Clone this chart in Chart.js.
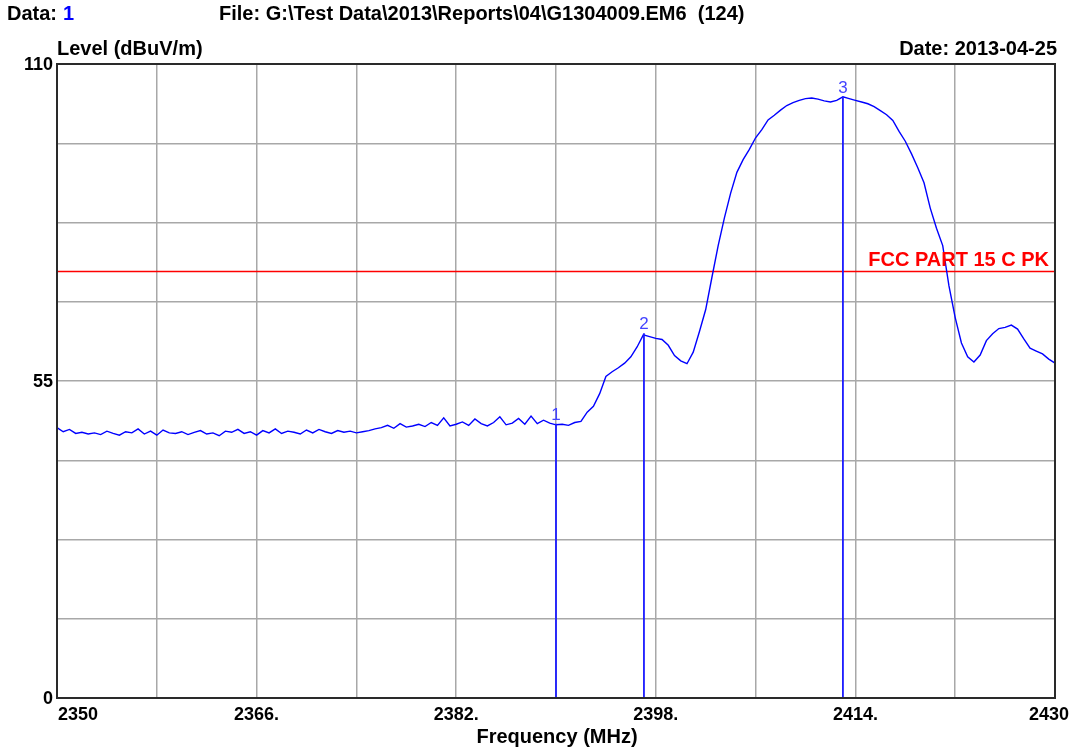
<!DOCTYPE html>
<html>
<head>
<meta charset="utf-8">
<title>G1304009.EM6</title>
<script src="https://cdn.jsdelivr.net/npm/chart.js@4.4.1/dist/chart.umd.min.js"></script>
<style>
    html, body { margin: 0; padding: 0; background: #ffffff; }
    #wrap { width: 1074px; height: 751px; position: relative; }
</style>
</head>
<body>
<div id="wrap"><canvas id="emChart"></canvas></div>
<script>
// Frequency axis, 0.5 MHz steps from 2350 to 2430
const startFreq = 2350;
const stepFreq = 0.5;

// Measured level (dBuV/m), one value per 0.5 MHz
const levels = [
    46.9, 46.2, 46.6, 45.9, 46.1, 45.8, 46.0, 45.7, 46.3, 45.9,
    45.6, 46.2, 46.0, 46.7, 45.8, 46.3, 45.6, 46.5, 46.0, 45.9,
    46.2, 45.7, 46.1, 46.4, 45.8, 46.0, 45.5, 46.3, 46.1, 46.6,
    45.9, 46.2, 45.6, 46.4, 46.0, 46.7, 45.9, 46.3, 46.1, 45.8,
    46.5, 46.0, 46.6, 46.2, 45.9, 46.4, 46.1, 46.3, 46.0, 46.2,
    46.4, 46.7, 46.9, 47.3, 46.8, 47.6, 47.0, 47.2, 47.5, 47.1,
    47.8, 47.3, 48.6, 47.2, 47.5, 47.9, 47.3, 48.4, 47.6, 47.2,
    47.8, 48.8, 47.4, 47.7, 48.5, 47.5, 48.9, 47.6, 48.2, 47.7,
    47.4, 47.5, 47.3, 47.8, 48.0, 49.6, 50.6, 52.8, 55.8, 56.6,
    57.3, 58.1, 59.2, 60.9, 63.0, 62.7, 62.4, 62.2, 61.2, 59.4,
    58.5, 58.0, 60.0, 63.6, 67.4, 73.0, 78.5, 83.3, 87.6, 91.2,
    93.4, 95.2, 97.2, 98.6, 100.3, 101.1, 102.0, 102.8, 103.3, 103.7,
    104.0, 104.1, 103.9, 103.6, 103.4, 103.7, 104.3, 104.0, 103.7, 103.4,
    103.1, 102.6, 101.9, 101.2, 100.2, 98.3, 96.6, 94.4, 92.0, 89.4,
    85.0, 81.5, 78.5, 71.5, 66.0, 61.6, 59.2, 58.3, 59.5, 62.0,
    63.2, 64.1, 64.3, 64.7, 64.0, 62.3, 60.7, 60.2, 59.7, 58.8,
    58.1
];

// Limit line
const limitLabel = 'FCC PART 15 C PK';
const limitLevel = 74;

// Markers
const markerNames = ['1', '2', '3'];
const markerFreqs = [2390, 2397.05, 2413];
const markerLevels = [47.6, 63.3, 104.3];

// Axis ticks
const xTickValues = [2350, 2366, 2382, 2398, 2414, 2430];
const xTickLabels = ['2350', '2366.', '2382.', '2398.', '2414.', '2430'];
const yTickValues = [0, 55, 110];
const yTickLabels = ['0', '55', '110'];

const traceData = levels.map(function(v, i) {
    return { x: startFreq + i * stepFreq, y: v };
});

const datasets = [
    {
        label: 'Level',
        data: traceData,
        borderColor: '#0000ff',
        borderWidth: 1.4,
        pointRadius: 0,
        tension: 0,
        order: 1
    },
    {
        label: limitLabel,
        data: [{ x: 2350, y: limitLevel }, { x: 2430, y: limitLevel }],
        borderColor: '#ff0000',
        borderWidth: 1.3,
        pointRadius: 0,
        order: 2
    }
];

markerFreqs.forEach(function(f, i) {
    datasets.push({
        label: 'Marker ' + markerNames[i],
        data: [{ x: f, y: 0 }, { x: f, y: markerLevels[i] }],
        borderColor: '#1a1aff',
        borderWidth: 1.8,
        pointRadius: 0,
        order: 0
    });
});

// Texts, frame and tick labels
const textPlugin = {
    id: 'emTexts',
    afterDraw: function(chart) {
        const ctx = chart.ctx;
        const area = chart.chartArea;
        const xs = chart.scales.x;
        const ys = chart.scales.y;
        ctx.save();

        // frame
        ctx.strokeStyle = '#2a2a2a';
        ctx.lineWidth = 2;
        ctx.strokeRect(area.left, area.top, area.right - area.left, area.bottom - area.top);

        ctx.font = 'bold 20px "Liberation Sans", Arial, sans-serif';
        ctx.fillStyle = '#000000';
        ctx.textBaseline = 'alphabetic';

        ctx.textAlign = 'left';
        ctx.fillText('Data:', 7, 20);
        ctx.fillStyle = '#0000ff';
        ctx.fillText('1', 63, 20);
        ctx.fillStyle = '#000000';
        ctx.fillText('File: G:\\Test Data\\2013\\Reports\\04\\G1304009.EM6  (124)', 219, 20);
        ctx.fillText('Level (dBuV/m)', 57, 55);
        ctx.textAlign = 'right';
        ctx.fillText('Date: 2013-04-25', area.right + 2, 55);
        ctx.textAlign = 'center';
        ctx.fillText('Frequency (MHz)', (area.left + area.right) / 2 + 1, 743);

        // x tick labels
        ctx.font = 'bold 18px "Liberation Sans", Arial, sans-serif';
        xTickValues.forEach(function(v, i) {
            const px = xs.getPixelForValue(v);
            if (i === 0) {
                ctx.textAlign = 'left';
                ctx.fillText(xTickLabels[i], px + 1, 720);
            } else if (i === xTickValues.length - 1) {
                ctx.textAlign = 'center';
                ctx.fillText(xTickLabels[i], px - 6, 720);
            } else {
                ctx.textAlign = 'center';
                ctx.fillText(xTickLabels[i], px, 720);
            }
        });

        // y tick labels
        ctx.textAlign = 'right';
        ctx.textBaseline = 'middle';
        yTickValues.forEach(function(v, i) {
            ctx.fillText(yTickLabels[i], area.left - 4, ys.getPixelForValue(v) + 1);
        });

        // limit label
        ctx.font = 'bold 20px "Liberation Sans", Arial, sans-serif';
        ctx.fillStyle = '#ff0000';
        ctx.textBaseline = 'alphabetic';
        ctx.textAlign = 'right';
        ctx.fillText(limitLabel, area.right - 6, ys.getPixelForValue(limitLevel) - 5);

        // marker labels
        ctx.font = '17px "Liberation Sans", Arial, sans-serif';
        ctx.fillStyle = '#4444ff';
        ctx.textAlign = 'center';
        markerFreqs.forEach(function(f, i) {
            ctx.fillText(markerNames[i], xs.getPixelForValue(f), ys.getPixelForValue(markerLevels[i]) - 4);
        });

        ctx.restore();
    }
};

new Chart(document.getElementById('emChart'), {
    type: 'line',
    data: { datasets: datasets },
    options: {
        responsive: true,
        maintainAspectRatio: false,
        animation: false,
        layout: {
            padding: { left: 57, top: 64, right: 19, bottom: 53 }
        },
        plugins: {
            legend: { display: false },
            tooltip: { enabled: false }
        },
        scales: {
            x: {
                type: 'linear',
                min: 2350,
                max: 2430,
                ticks: { stepSize: 8, display: false },
                grid: { color: '#a8a8a8', lineWidth: 1.5, drawTicks: false },
                border: { display: false }
            },
            y: {
                type: 'linear',
                min: 0,
                max: 110,
                ticks: { stepSize: 13.75, display: false },
                grid: { color: '#a8a8a8', lineWidth: 1.5, drawTicks: false },
                border: { display: false }
            }
        }
    },
    plugins: [textPlugin]
});
</script>
</body>
</html>
